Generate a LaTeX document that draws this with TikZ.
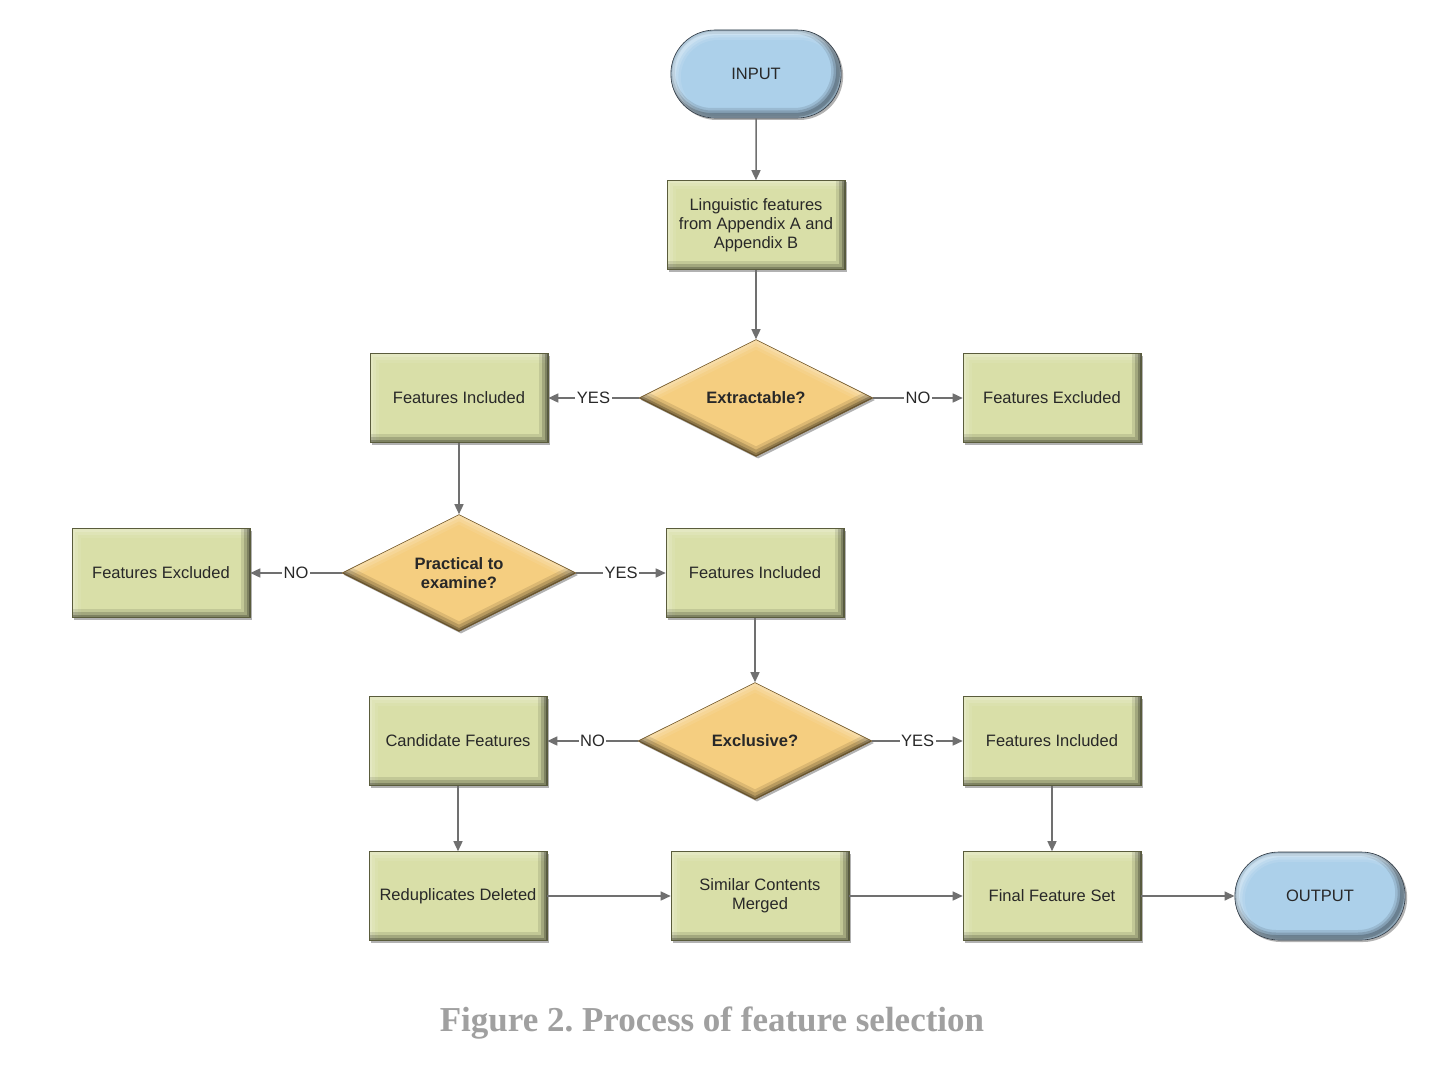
\documentclass[tikz,border=0pt]{standalone}
\usepackage{fontspec}
\setmainfont{Liberation Sans}
\newfontfamily\capfont{Liberation Serif}
\usetikzlibrary{shapes.geometric,shapes.misc,shadows,arrows.meta}
\definecolor{boxfill}{RGB}{217,223,168}
\definecolor{boxedge}{RGB}{90,92,60}
\definecolor{dfill}{RGB}{245,206,128}
\definecolor{dedge}{RGB}{110,85,40}
\definecolor{ofill}{RGB}{172,208,234}
\definecolor{oedge}{RGB}{50,60,70}
\definecolor{txt}{RGB}{40,40,40}
\definecolor{linec}{RGB}{112,112,112}
\definecolor{capgray}{RGB}{160,160,160}
\tikzset{
  base/.style={font=\fontsize{16.5}{19}\selectfont, text=txt, align=center,
    drop shadow={shadow xshift=2pt, shadow yshift=-2pt, opacity=.4, fill=black!75}},
  bevelrect/.style={path picture={
    \foreach \w/\o in {18/.08,12/.12,6/.16}{
      \draw[line width=\w pt, white, opacity=\o, line join=miter]
        (path picture bounding box.south west) -- (path picture bounding box.north west) -- (path picture bounding box.north east);
    }
    \foreach \w/\o in {18/.10,12/.16,6/.22,2/.3}{
      \draw[line width=\w pt, black, opacity=\o, line join=miter]
        (path picture bounding box.north east) -- (path picture bounding box.south east) -- (path picture bounding box.south west);
    }}},
  beveldiam/.style={path picture={
    \foreach \w/\o in {18/.08,12/.12,6/.16}{
      \draw[line width=\w pt, white, opacity=\o, line join=miter]
        (path picture bounding box.west) -- (path picture bounding box.north) -- (path picture bounding box.east);
    }
    \foreach \w/\o in {18/.10,12/.16,6/.22,2/.3}{
      \draw[line width=\w pt, black, opacity=\o, line join=miter]
        (path picture bounding box.east) -- (path picture bounding box.south) -- (path picture bounding box.west);
    }}},
  beveloval/.style={path picture={
    \foreach \w/\o in {14/.10,9/.14,4/.2}{
      \draw[rounded corners=44pt, line width=\w pt, white, opacity=\o]
        ([xshift=3pt,yshift=-3pt]path picture bounding box.south west) rectangle ([xshift=3pt,yshift=-3pt]path picture bounding box.north east);
      \draw[rounded corners=44pt, line width=\w pt, black, opacity=\o]
        ([xshift=-3pt,yshift=3pt]path picture bounding box.south west) rectangle ([xshift=-3pt,yshift=3pt]path picture bounding box.north east);
    }}},
  stepbox/.style={base, rectangle, minimum width=178pt, minimum height=89pt,
    fill=boxfill, draw=boxedge, line width=.6pt, bevelrect},
  decision/.style={base, diamond, aspect=2, inner sep=1pt, minimum width=234pt, minimum height=117pt,
    fill=dfill, draw=dedge, line width=.6pt, font=\fontsize{16.5}{19}\selectfont\bfseries, beveldiam},
  terminal/.style={base, rounded rectangle, minimum width=177pt, minimum height=88pt,
    fill=ofill, draw=oedge, line width=.6pt, beveloval},
  arr/.style={draw=linec, line width=1.5pt, -{Triangle[length=10pt,width=9pt]}},
  lbl/.style={fill=white, inner sep=1.5pt, text=txt, font=\fontsize{16.5}{19}\selectfont}
}
\begin{document}
\begin{tikzpicture}[x=1pt,y=-1pt]
\useasboundingbox (0,0) rectangle (1436,1070);
\fill[white] (0,0) rectangle (1436,1070);

\node[terminal] (in) at (756,74) {INPUT};
\node[stepbox] (ling) at (756,225) {\strut Linguistic features\\from Appendix A and\\Appendix B};
\node[decision] (ext) at (756,398) {Extractable?};
\node[stepbox] (fi1) at (459,398) {Features Included};
\node[stepbox] (fe1) at (1052,398) {Features Excluded};
\node[decision] (prac) at (459,573) {Practical to\\examine?};
\node[stepbox] (fe2) at (161,573) {Features Excluded};
\node[stepbox] (fi2) at (755,573) {Features Included};
\node[decision] (excl) at (755,741) {Exclusive?};
\node[stepbox] (cand) at (458,741) {Candidate Features};
\node[stepbox] (fi3) at (1052,741) {Features Included};
\node[stepbox] (redup) at (458,896) {Reduplicates Deleted};
\node[stepbox] (sim) at (760,896) {Similar Contents\\Merged};
\node[stepbox] (final) at (1052,896) {Final Feature Set};
\node[terminal] (out) at (1320,896) {OUTPUT};

\draw[arr] (in) -- (ling);
\draw[arr] (ling) -- (ext);
\draw[arr] (ext) -- node[lbl]{YES} (fi1);
\draw[arr] (ext) -- node[lbl]{NO} (fe1);
\draw[arr] (fi1) -- (prac);
\draw[arr] (prac) -- node[lbl]{NO} (fe2);
\draw[arr] (prac) -- node[lbl]{YES} (fi2);
\draw[arr] (fi2) -- (excl);
\draw[arr] (excl) -- node[lbl]{NO} (cand);
\draw[arr] (excl) -- node[lbl]{YES} (fi3);
\draw[arr] (cand) -- (redup);
\draw[arr] (fi3) -- (final);
\draw[arr] (redup) -- (sim);
\draw[arr] (sim) -- (final);
\draw[arr] (final) -- (out);

\node[font=\capfont\bfseries\fontsize{35}{40}\selectfont, text=capgray] (cap) at (712,1023) {\frenchspacing Figure 2. Process of feature selection};
\end{tikzpicture}
\end{document}
